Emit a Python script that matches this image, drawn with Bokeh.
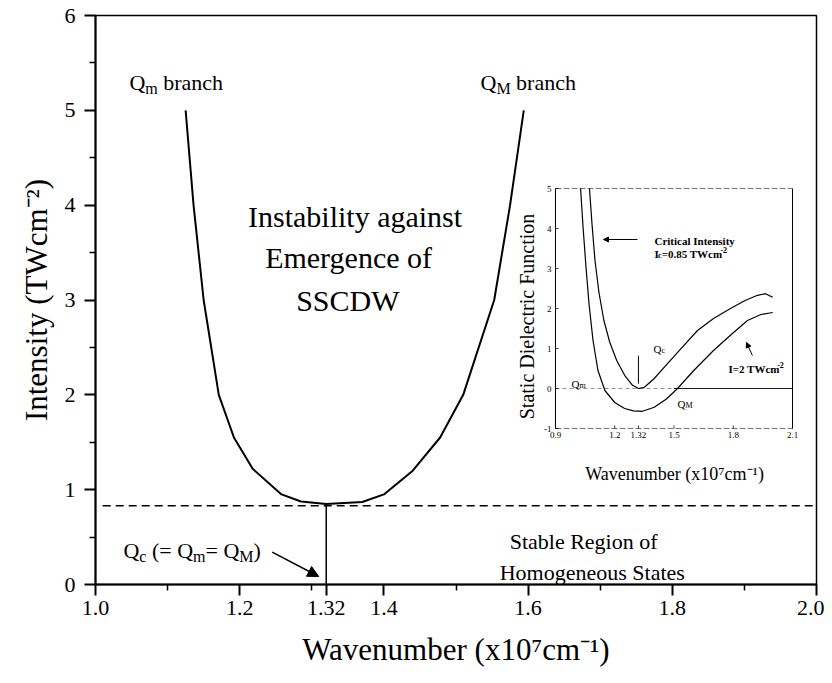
import math
from bokeh.plotting import figure
from bokeh.models import Range1d, FixedTicker, Arrow, NormalHead, CustomJSTickFormatter
from bokeh.core.properties import value
from bokeh.embed import file_html
from bokeh.resources import INLINE

# ---------------- data: main panel ----------------
left_q = [1.125, 1.136, 1.150, 1.171, 1.192, 1.218, 1.258, 1.285, 1.32]
left_i = [5.0, 4.0, 3.0, 2.0, 1.55, 1.22, 0.95, 0.875, 0.85]
right_q = [1.32, 1.37, 1.40, 1.44, 1.478, 1.51, 1.553, 1.575, 1.594]
right_i = [0.85, 0.87, 0.95, 1.2, 1.55, 2.0, 3.0, 4.0, 5.0]
critical_i = 0.83
q_c = 1.32

x_major = [1.0, 1.2, 1.32, 1.4, 1.6, 1.8, 2.0]
x_minor = [1.1, 1.3, 1.5, 1.7, 1.9]
y_major = [0, 1, 2, 3, 4, 5, 6]
y_minor = [0.5, 1.5, 2.5, 3.5, 4.5, 5.5]

# ---------------- data: inset ----------------
ic_q = [1.072, 1.085, 1.10, 1.12, 1.145, 1.175, 1.21, 1.25, 1.29, 1.32, 1.35, 1.40,
        1.467, 1.54, 1.619, 1.70, 1.786, 1.86, 1.923, 1.963, 2.0]
ic_e = [5.0, 4.1, 3.2, 2.4, 1.7, 1.15, 0.7, 0.33, 0.08, 0.0, 0.03, 0.25,
        0.62, 1.02, 1.45, 1.75, 2.0, 2.2, 2.33, 2.37, 2.28]
i2_q = [1.027, 1.04, 1.055, 1.07, 1.09, 1.115, 1.15, 1.20, 1.25, 1.295, 1.34, 1.40,
        1.46, 1.518, 1.60, 1.70, 1.79, 1.872, 1.94, 2.0]
i2_e = [5.0, 4.0, 3.0, 2.1, 1.2, 0.45, -0.05, -0.35, -0.5, -0.56, -0.57, -0.47,
        -0.27, 0.0, 0.45, 0.95, 1.35, 1.7, 1.85, 1.9]
inset_xticks = [0.9, 1.2, 1.32, 1.5, 1.8, 2.1]
inset_xlabels = ["0.9", "1.2", "1.32", "1.5", "1.8", "2.1"]
inset_yticks = [-1, 0, 1, 2, 3, 4, 5]
inset_ylabels = ["-1", "0", "1", "2", "3", "4", "5"]
inset_xlim = (0.9, 2.1)
inset_ylim = (-1, 5)

FONT = value("Liberation Serif")

p = figure(width=824, height=675, output_backend="svg", toolbar_location=None,
           x_range=Range1d(1.0, 2.0), y_range=Range1d(0, 6),
           min_border_left=95, min_border_right=8, min_border_top=15, min_border_bottom=91)
p.grid.visible = False
p.outline_line_color = "black"
p.outline_line_width = 1.5
p.background_fill_color = "white"
p.border_fill_color = "white"

# inset coordinate system (maps onto the whole frame)
px_per_x = 197.5
px_per_y = 40.0
p.extra_x_ranges = {"ix": Range1d(0.9 - (555 - 95) / px_per_x, 2.1 + (816 - 792) / px_per_x)}
p.extra_y_ranges = {"iy": Range1d(-1 - (584 - 428) / px_per_y, 5 + (188 - 15) / px_per_y)}

for ax in (p.xaxis[0], p.yaxis[0]):
    ax.axis_line_width = 2
    ax.major_tick_line_width = 2
    ax.minor_tick_line_width = 1.5
    ax.major_tick_out = 11
    ax.major_tick_in = 0
    ax.minor_tick_out = 6
    ax.minor_tick_in = 0
    ax.major_label_text_font = "Liberation Serif"
    ax.major_label_text_font_size = "22px"
    ax.major_label_text_color = "black"
    ax.axis_label_text_font = "Liberation Serif"
    ax.axis_label_text_font_size = "31px"
    ax.axis_label_text_font_style = "normal"
    ax.axis_label_text_color = "black"

p.xaxis.ticker = FixedTicker(ticks=x_major, minor_ticks=x_minor)
p.yaxis.ticker = FixedTicker(ticks=y_major, minor_ticks=y_minor)
p.xaxis.formatter = CustomJSTickFormatter(
    code="return (Math.abs(tick-1.32)<1e-6) ? '1.32' : tick.toFixed(1);")
p.yaxis.formatter = CustomJSTickFormatter(code="return tick.toFixed(0);")
p.xaxis.major_label_standoff = 5
p.yaxis.major_label_standoff = 9
p.xaxis.axis_label = "Wavenumber (x10\u2077cm\u207b\u00b9)"
p.yaxis.axis_label = "Intensity (TWcm\u207b\u00b2)"
p.xaxis.axis_label_standoff = 14
p.yaxis.axis_label_standoff = 8

# ---------------- main marks ----------------
curve_q = left_q + right_q[1:]
curve_i = left_i + right_i[1:]
p.line(curve_q, curve_i, line_color="black", line_width=2)
p.line([1.01, 2.0], [critical_i, critical_i], line_color="black", line_width=1.5,
       line_dash="8 5")
p.segment(x0=[q_c], y0=[0], x1=[q_c], y1=[min(curve_i)], line_color="black", line_width=1.5)
p.add_layout(Arrow(x_start=1.2451, y_start=0.341, x_end=1.3097, y_end=0.084,
                   line_width=1.5, line_color="black",
                   end=NormalHead(size=11, fill_color="black", line_color="black")))

# width table (Times metrics)
W = {' ': .25, '(': .333, ')': .333, '=': .564, 'Q': .722, 'M': .889, 'm': .778, 'c': .444,
     'b': .5, 'r': .333, 'a': .444, 'n': .5, 'h': .5, 'I': .333, 'T': .611, 'W': .944,
     '.': .25, '-': .333}


def rich(x, y, pieces, style="normal", **kw):
    off = 0.0
    for txt, size, dy in pieces:
        lead = len(txt) - len(txt.lstrip(' '))
        off += lead * W[' '] * size
        core = txt.strip(' ')
        p.text(x=[x], y=[y], text=[core], x_offset=off, y_offset=dy,
               text_font=FONT, text_font_size=f"{size}px", text_font_style=style,
               text_align="left", text_baseline="alphabetic", text_color="black", **kw)
        off += sum(W.get(ch, 0.5) for ch in core) * size
        trail = len(txt) - len(txt.rstrip(' '))
        off += trail * W[' '] * size


def label(x, y, txt, size, align="center", **kw):
    p.text(x=[x], y=[y], text=[txt], text_font=FONT, text_font_size=f"{size}px",
           text_align=align, text_baseline="alphabetic", text_color="black", **kw)


label(1.360, 3.88, "Instability against", 30)
label(1.351, 3.449, "Emergence of", 30)
label(1.350, 2.996, "SSCDW", 30)
label(1.677, 0.454, "Stable Region of", 22)
label(1.689, 0.127, "Homogeneous States", 22)

rich(1.047, 5.295, [("Q", 22, 0), ("m", 16, 6), (" branch", 22, 0)])
rich(1.534, 5.295, [("Q", 22, 0), ("M", 16, 6), (" branch", 22, 0)])
rich(1.0388, 0.355, [("Q", 22, 0), ("c", 16, 6), (" (= Q", 22, 0), ("m", 16, 6),
                     ("= Q", 22, 0), ("M", 16, 6), (")", 22, 0)])

# ---------------- inset ----------------
IK = dict(x_range_name="ix", y_range_name="iy")
x0, x1 = inset_xlim
y0, y1 = inset_ylim
p.line([x0, x0], [y0, y1], line_color="black", line_width=1, **IK)
p.line([x1, x1], [y0, y1], line_color="black", line_width=1, **IK)
p.line([x0, x1], [y1, y1], line_color="#555555", line_width=0.8, line_dash="6 2", **IK)
p.line([x0, x1], [y0, y0], line_color="#555555", line_width=0.8, line_dash="6 2", **IK)
p.line([x0, 1.5], [0, 0], line_color="#777777", line_width=0.8, line_dash="4 3", **IK)
p.line([1.5, x1], [0, 0], line_color="black", line_width=0.9, **IK)

tick_dx = 3 / px_per_x
tick_dy = 3 / px_per_y
p.segment(x0=inset_xticks, y0=[y0] * len(inset_xticks), x1=inset_xticks,
          y1=[y0 + tick_dy] * len(inset_xticks), line_color="black", line_width=0.8, **IK)
p.segment(x0=[x0] * len(inset_yticks), y0=inset_yticks, x1=[x0 + tick_dx] * len(inset_yticks),
          y1=inset_yticks, line_color="black", line_width=0.8, **IK)
p.text(x=[x0] * len(inset_yticks), y=inset_yticks, text=inset_ylabels, x_offset=-4,
       text_font=FONT, text_font_size="9px", text_align="right", text_baseline="middle",
       text_color="black", **IK)
p.text(x=inset_xticks, y=[y0] * len(inset_xticks), text=inset_xlabels, y_offset=3,
       text_font=FONT, text_font_size="9px", text_align="center", text_baseline="top",
       text_color="black", **IK)

p.line(ic_q, ic_e, line_color="black", line_width=1.2, **IK)
p.line(i2_q, i2_e, line_color="black", line_width=1.2, **IK)
p.segment(x0=[q_c], y0=[0.12], x1=[q_c], y1=[0.82], line_color="black", line_width=1, **IK)

p.text(x=[0.758], y=[1.8], text=["Static Dielectric Function"], angle=math.pi / 2,
       text_font=FONT, text_font_size="20px", text_align="center", text_baseline="middle",
       text_color="black", **IK)
p.text(x=[1.503], y=[-2.125], text=["Wavenumber (x10\u2077cm\u207b\u00b9)"],
       text_font=FONT, text_font_size="18px", text_align="center", text_baseline="alphabetic",
       text_color="black", **IK)

rich(1.401, 3.70, [("Critical Intensity", 11, 0)], style="bold", **IK)
rich(1.401, 3.375, [("I", 11, 0), ("c", 8, 2), ("=0.85 TWcm", 11, 0), ("-2", 8, -4)],
     style="bold", **IK)
rich(1.396, 1.0, [("Q", 11, 0), ("c", 8, 2)], **IK)
rich(0.981, 0.125, [("Q", 11, 0), ("m", 8, 2)], **IK)
rich(1.518, -0.375, [("Q", 11, 0), ("M", 8, 2)], **IK)
rich(1.776, 0.5, [("I=2 TWcm", 11, 0), ("-2", 8, -4)], style="bold", **IK)

p.add_layout(Arrow(x_start=1.315, y_start=3.725, x_end=1.143, y_end=3.725,
                   line_width=1, line_color="black",
                   end=NormalHead(size=5, fill_color="black", line_color="black"), **IK))
p.add_layout(Arrow(x_start=1.897, y_start=0.825, x_end=1.867, y_end=1.15,
                   line_width=1, line_color="black",
                   end=NormalHead(size=5, fill_color="black", line_color="black"), **IK))

open("out.html", "w").write(file_html(p, INLINE))
